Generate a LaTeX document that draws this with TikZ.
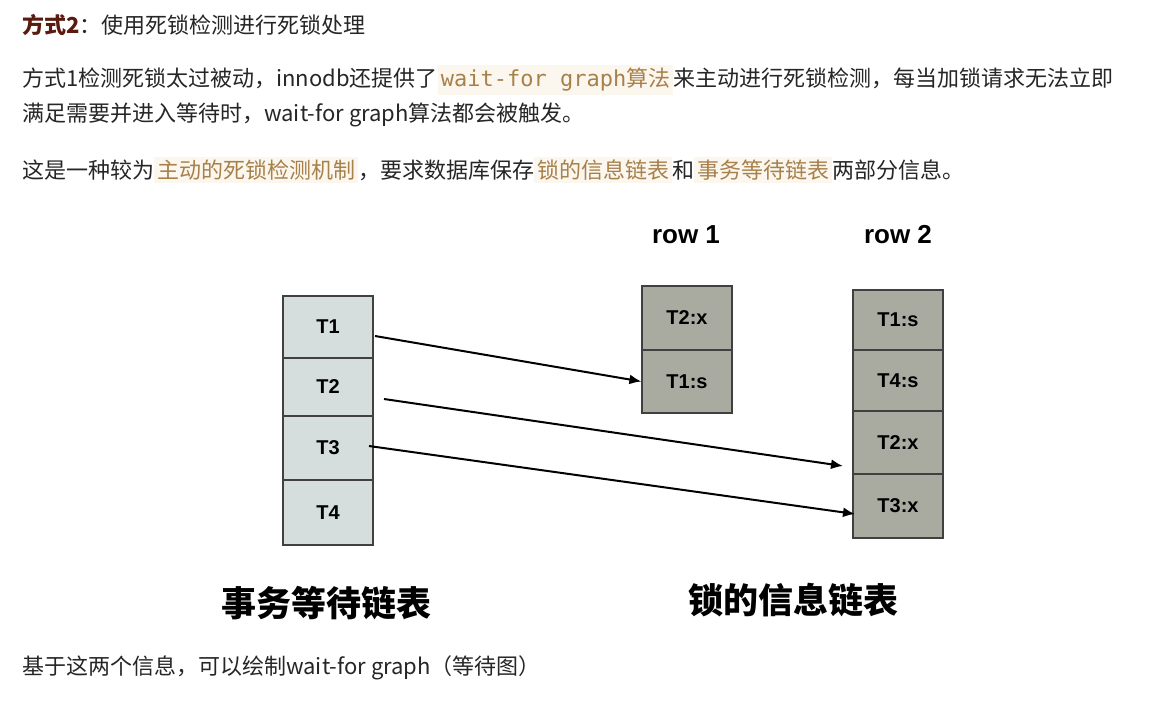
\documentclass[tikz,border=0pt]{standalone}
\usepackage{fontspec}
\setmainfont{Noto Sans CJK SC}
\newfontfamily\cjk{Noto Sans CJK SC}
\newfontfamily\mono{DejaVu Sans Mono}
\newfontfamily\lab{Liberation Sans}
\usetikzlibrary{arrows.meta}
\definecolor{hl}{HTML}{A8804A}
\definecolor{hlbg}{HTML}{FBF7EF}
\definecolor{lfill}{HTML}{D6DDDD}
\definecolor{rfill}{HTML}{A9ABA1}
\definecolor{dred}{HTML}{5A1A10}
\newcommand{\hlt}[1]{\colorbox{hlbg}{\textcolor{hl}{#1}}}
\tikzset{
 txt/.style={anchor=west,inner sep=0pt,font=\fontsize{22}{22}\selectfont,text=black!85},
 cell/.style={draw=black!75,line width=1.2pt,minimum width=90pt,inner sep=0pt,font=\lab\bfseries\fontsize{20}{20}\selectfont},
 lc/.style={cell,fill=lfill},
 rc/.style={cell,fill=rfill},
 arr/.style={line width=2pt,-{Latex[length=12pt,width=10pt]}},
 big/.style={font=\cjk\bfseries\fontsize{35}{35}\selectfont},
 hd/.style={font=\lab\bfseries\fontsize{26}{26}\selectfont}
}
\begin{document}
\begin{tikzpicture}[x=1pt,y=-1pt]
\useasboundingbox[fill=white] (0,0) rectangle (1163,705);
\node[txt] (h) at (22,25) {\textcolor{dred}{\bfseries 方式2}：使用死锁检测进行死锁处理};
\node[txt] (p1) at (22,80) {方式1检测死锁太过被动，innodb还提供了\hlt{{\mono wait-for graph}算法}来主动进行死锁检测，每当加锁请求无法立即};
\node[txt] (p2) at (22,115) {满足需要并进入等待时，wait-for graph算法都会被触发。};
\node[txt] (p3) at (22,170) {这是一种较为\hlt{主动的死锁检测机制}，要求数据库保存\hlt{锁的信息链表}和\hlt{事务等待链表}两部分信息。};
\node[txt] (p4) at (22,668) {基于这两个信息，可以绘制wait-for graph（等待图）};
% left
\node[lc,minimum height=62pt] (t1) at (328,327) {T1};
\node[lc,minimum height=58pt] (t2) at (328,387) {T2};
\node[lc,minimum height=64pt] (t3) at (328,448) {T3};
\node[lc,minimum height=65pt] (t4) at (328,512.5) {T4};
% row1
\node[rc,minimum height=64pt] (a1) at (687,318) {T2:x};
\node[rc,minimum height=63pt] (a2) at (687,381.5) {T1:s};
% row2
\node[rc,minimum height=60pt] (b1) at (898,320) {T1:s};
\node[rc,minimum height=61pt] (b2) at (898,380.5) {T4:s};
\node[rc,minimum height=63pt] (b3) at (898,442.5) {T2:x};
\node[rc,minimum height=64pt] (b4) at (898,506) {T3:x};
\node[hd] (r1) at (686,235) {row 1};
\node[hd] (r2) at (898,235) {row 2};
\node[big] (l1) at (326,603) {事务等待链表};
\node[big] (l2) at (793,600) {锁的信息链表};
\coordinate (s1) at (375,336);
\coordinate (s2) at (384,399);
\coordinate (s3) at (369,446);
\coordinate (e2) at (843,466);
\coordinate (e3) at (855,514);
\draw[arr] (s1) -- (a2.west);
\draw[arr] (s2) -- (e2);
\draw[arr] (s3) -- (e3);
\end{tikzpicture}
\end{document}
